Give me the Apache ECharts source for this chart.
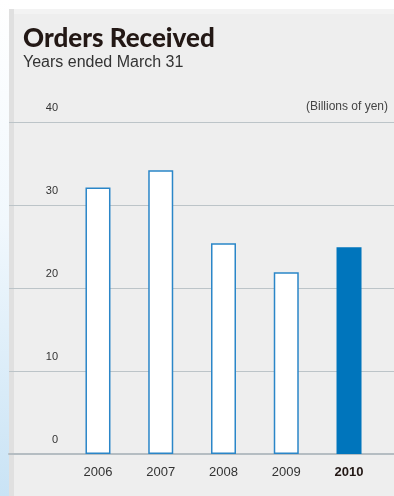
<!DOCTYPE html>
<html>
<head>
<meta charset="utf-8">
<script src="https://cdn.jsdelivr.net/npm/echarts@6/dist/echarts.min.js"></script>
<style>
  html, body { margin: 0; padding: 0; background: #ffffff; }
  #chart { width: 394px; height: 496px; }
</style>
</head>
<body>
<div id="chart"></div>
<script>
// Orders received, billions of yen, fiscal years ended March 31
const years = ['2006', '2007', '2008', '2009', '2010'];
const orders = [32.1, 34.2, 25.4, 21.9, 24.9];
const yTicks = { min: 0, max: 40, interval: 10 };
const currentYear = '2010';

const chart = echarts.init(document.getElementById('chart'));

const bars = years.map((y, i) => ({
  value: orders[i],
  itemStyle: y === currentYear
    ? { color: '#0075bc', borderColor: '#0075bc', borderWidth: 0 }
    : { color: '#ffffff', borderColor: '#2a86c8', borderWidth: 1.5 }
}));

chart.setOption({
  animation: false,
  backgroundColor: '#ffffff',
  graphic: [
    // side strip fading into light blue
    {
      type: 'rect', z: -10, silent: true,
      shape: { x: 0, y: 0, width: 9, height: 496 },
      style: {
        fill: new echarts.graphic.LinearGradient(0, 0, 0, 1, [
          { offset: 0, color: '#ffffff' },
          { offset: 0.45, color: '#f1f8fd' },
          { offset: 1, color: '#c9e3f5' }
        ])
      }
    },
    // panel
    {
      type: 'rect', z: -9, silent: true,
      shape: { x: 9, y: 9, width: 385, height: 487 },
      style: { fill: '#eeeeee' }
    },
    {
      type: 'rect', z: -8, silent: true,
      shape: { x: 9, y: 9, width: 5, height: 487 },
      style: { fill: '#e0e0e0' }
    },
    {
      type: 'rect', z: -8, silent: true,
      shape: { x: 14, y: 9, width: 380, height: 5 },
      style: { fill: '#f3f3f3' }
    },
    {
      type: 'text', right: 6, top: 101,
      style: { text: '(Billions of yen)', fill: '#444444', fontSize: 12, fontFamily: 'Liberation Sans, Arial, sans-serif' }
    }
  ],
  title: {
    text: 'Orders Received',
    subtext: 'Years ended March 31',
    left: 18,
    top: 21,
    itemGap: 3,
    textStyle: { fontSize: 26, fontWeight: 900, color: '#231815', fontFamily: 'Lato, Liberation Sans, Arial, sans-serif' },
    subtextStyle: { fontSize: 16, color: '#333333', fontFamily: 'Liberation Sans, Arial, sans-serif' }
  },
  grid: [
    { left: 9, right: 0, top: 122, bottom: 42 },
    { left: 66.6, right: 13.6, top: 122, bottom: 42 }
  ],
  xAxis: [
    {
      gridIndex: 0, type: 'value', min: 0, max: 1,
      axisLine: { show: true, lineStyle: { color: '#b5bdc2', width: 2 } },
      axisTick: { show: false }, axisLabel: { show: false }, splitLine: { show: false }
    },
    {
      gridIndex: 1, type: 'category', data: years,
      axisLine: { show: false }, axisTick: { show: false },
      axisLabel: {
        margin: 12, fontSize: 13, color: '#333333',
        fontFamily: 'Liberation Sans, Arial, sans-serif',
        formatter: v => v === currentYear ? '{b|' + v + '}' : v,
        rich: { b: { fontSize: 13, fontWeight: 'bold', color: '#231815', fontFamily: 'Liberation Sans, Arial, sans-serif' } }
      }
    }
  ],
  yAxis: [
    {
      gridIndex: 0, type: 'value', min: yTicks.min, max: yTicks.max, interval: yTicks.interval,
      axisLine: { show: false }, axisTick: { show: false },
      splitLine: { lineStyle: { color: '#bcc4c8', width: 1 } },
      axisLabel: {
        inside: true, margin: 49, align: 'right', verticalAlign: 'bottom',
        padding: [0, 0, 9, 0],
        fontSize: 11, color: '#333333', fontFamily: 'Liberation Sans, Arial, sans-serif'
      }
    },
    {
      gridIndex: 1, type: 'value', min: yTicks.min, max: yTicks.max, interval: yTicks.interval,
      show: false
    }
  ],
  series: [
    {
      type: 'bar', xAxisIndex: 1, yAxisIndex: 1,
      data: bars, barWidth: 25
    }
  ]
});
</script>
</body>
</html>
